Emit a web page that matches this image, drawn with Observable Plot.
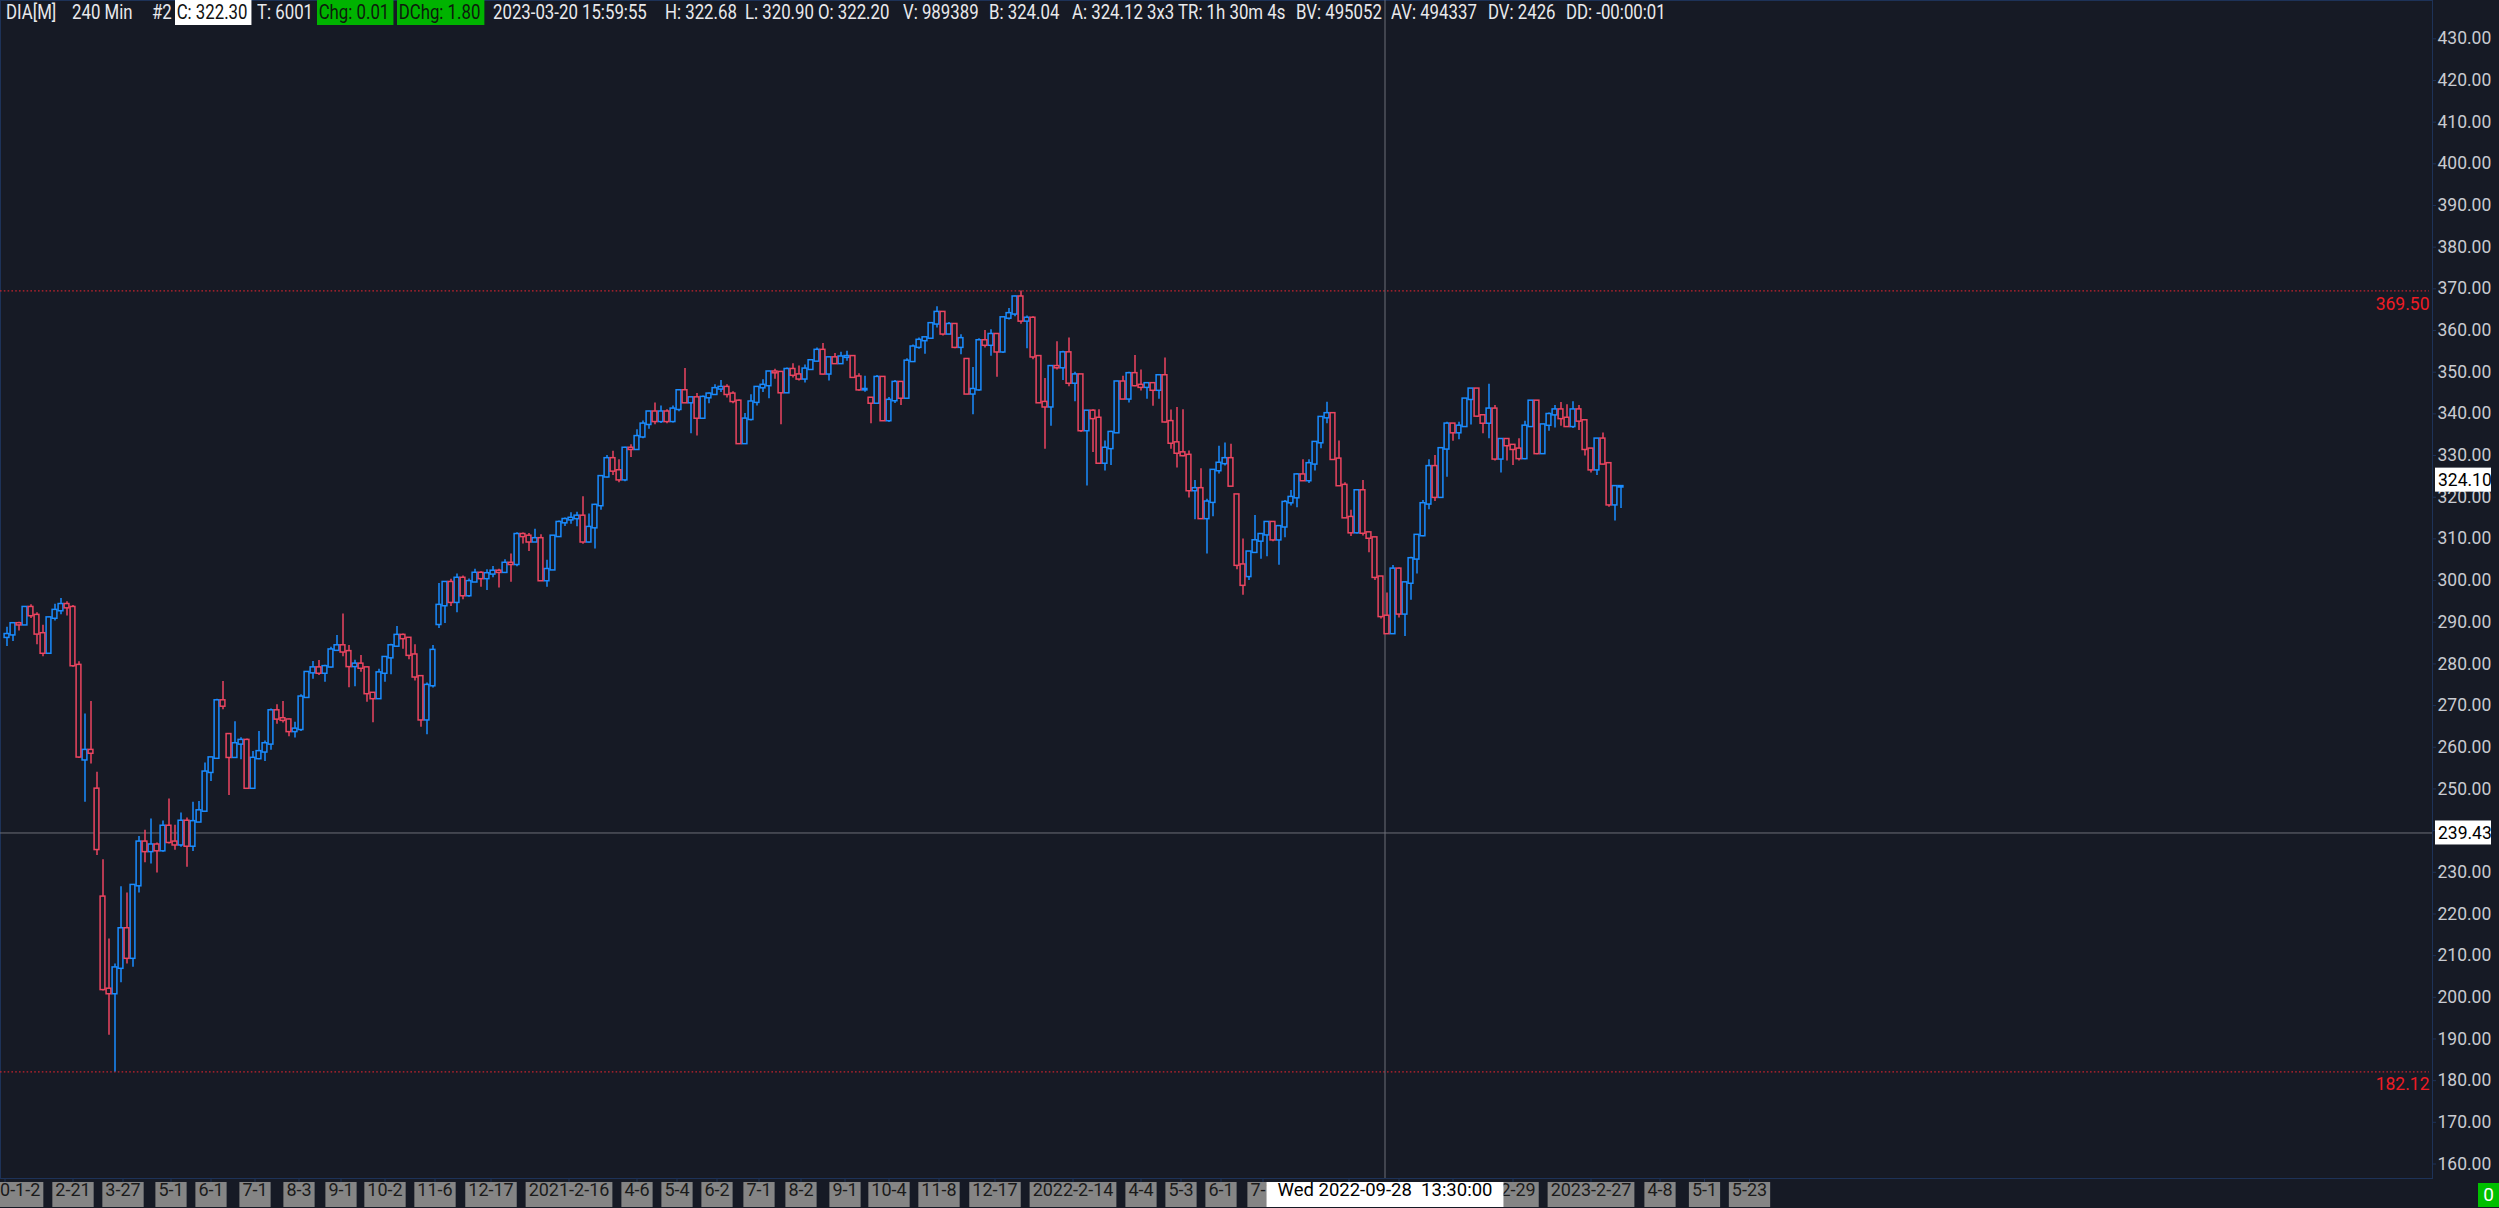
<!DOCTYPE html>
<html>
<head>
<meta charset="utf-8">
<script src="https://cdn.jsdelivr.net/npm/d3@7"></script>
<script src="https://cdn.jsdelivr.net/npm/@observablehq/plot@0.6"></script>
<style>
  html, body { margin: 0; padding: 0; background: #161a25; overflow: hidden; }
  #wrap { position: relative; width: 2499px; height: 1208px; }
  #chart svg { display: block; }
  .hdr { position: absolute; top: 0; height: 25px; line-height: 25px; font-family: Roboto, sans-serif; font-size: 20px; color: #e9e9ec; white-space: pre; transform: scaleX(0.84); transform-origin: 0 0; }
  .hdr.white { background: #ffffff; color: #111111; padding: 0 5px 0 2px; }
  .hdr.green { background: #00b300; color: #0d1a0d; padding: 0 5px 0 2px; }
  #zero { position: absolute; left: 2478px; top: 1183px; width: 21px; height: 24px; background: #00c000; color: #ffffff; font: 19px Roboto, sans-serif; text-align: center; line-height: 24px; }
  .xdate text { white-space: pre; }
</style>
</head>
<body>
<div id="wrap"><div id="chart"></div><div id="zero">0</div></div>
<script>
// ---- candle data: DIA, one candle per 3 trading days starting 2020-01-02 ----
const candleOpen = [
286.4,287.0,289.6,289.4,293.5,291.6,287.2,282.6,291.0,292.8,
294.2,293.5,279.6,257.0,259.2,249.9,224.0,201.9,200.9,207.0,
216.4,209.4,226.8,237.2,235.0,236.5,235.2,241.0,237.2,236.6,
242.2,236.3,242.1,244.7,254.0,257.4,271.1,263.0,257.6,260.8,
261.6,250.2,257.3,258.9,260.8,268.7,266.8,266.5,263.8,264.3,
272.0,277.9,279.0,277.8,279.3,283.3,284.3,282.9,279.4,279.9,
279.0,272.9,271.7,277.8,281.5,284.3,286.8,286.1,282.1,276.9,
266.6,274.8,289.5,294.0,299.5,294.8,300.5,296.4,299.7,301.7,
300.5,301.6,302.2,302.0,304.1,303.9,311.0,310.6,309.3,310.0,
300.0,302.6,310.6,313.9,314.6,314.9,315.4,309.3,312.7,318.0,
324.9,329.2,326.3,324.2,331.7,331.5,334.5,337.5,340.4,338.2,
340.4,338.2,341.1,345.5,342.7,343.8,339.0,343.9,344.7,346.0,
346.3,344.7,343.0,332.9,338.7,342.8,346.3,346.8,350.0,349.9,
345.1,350.6,349.3,348.4,350.7,352.7,355.2,349.6,353.4,352.1,
353.6,353.7,348.8,345.8,343.7,342.6,348.7,338.4,343.2,347.5,
343.8,352.6,356.0,357.6,358.2,361.6,364.3,359.2,361.4,356.0,
353.0,344.8,345.8,357.5,356.5,359.0,354.9,363.0,364.0,368.0,
362.3,362.9,353.7,342.7,341.7,351.3,351.1,354.6,347.4,349.3,
336.0,340.6,338.9,328.2,331.7,335.5,347.6,343.6,349.6,346.8,
346.4,347.2,345.7,349.1,338.1,333.0,330.6,330.0,321.6,322.0,
314.9,318.8,326.4,328.1,329.2,320.5,303.7,301.0,306.8,309.5,
311.0,313.9,309.8,312.9,318.7,319.9,325.3,324.0,328.0,333.1,
339.1,340.0,329.1,322.8,315.1,311.5,321.5,311.4,310.2,300.8,
291.4,287.3,302.7,292.0,299.4,305.2,310.8,318.4,327.3,320.0,
331.6,337.5,335.5,337.0,343.5,345.9,339.5,337.8,341.1,329.2,
333.8,332.4,331.5,329.3,337.0,343.0,330.5,337.3,339.8,340.9,
338.9,337.0,340.9,338.3,331.5,326.6,333.9,328.0,318.2,322.5
];
const candleHigh = [
288.8,289.9,290.0,293.7,294.2,292.3,289.3,291.2,294.3,295.7,
294.9,294.0,280.5,268.0,271.0,254.0,233.0,214.0,208.0,226.5,
225.0,227.0,238.6,240.1,242.8,237.0,242.3,247.6,241.3,244.2,
243.0,246.8,247.0,256.2,257.6,271.5,275.8,263.0,266.1,262.3,
262.0,259.0,263.8,261.5,269.2,270.2,271.0,266.8,266.0,272.6,
278.1,280.6,280.8,279.7,284.0,286.8,292.0,284.4,280.9,282.0,
279.3,273.0,278.7,281.8,284.7,289.0,287.2,286.3,284.6,277.0,
275.4,284.4,299.3,299.6,300.3,301.6,301.1,300.4,302.7,302.1,
302.6,303.4,302.7,305.0,306.4,311.5,311.4,311.3,312.3,311.0,
304.9,310.7,314.3,315.0,316.3,316.4,320.1,316.0,318.3,325.0,
330.0,331.0,329.0,332.0,332.6,336.2,338.3,340.6,342.6,341.9,
341.0,341.9,345.8,350.9,344.0,344.9,344.3,345.0,347.0,348.0,
347.0,345.3,343.3,340.1,344.6,346.5,348.2,350.2,350.7,350.0,
351.0,352.0,351.5,351.7,353.0,355.8,356.9,353.6,354.5,354.8,
355.0,353.9,349.6,349.0,343.9,349.2,348.9,343.9,348.0,347.6,
353.2,356.5,358.2,358.4,361.8,365.7,364.5,361.9,361.6,359.0,
353.0,351.1,358.0,360.0,360.2,359.0,363.2,365.3,368.2,369.5,
363.5,363.3,354.0,348.5,351.6,357.3,355.0,358.2,350.0,349.4,
340.8,341.0,341.0,333.5,335.8,347.8,349.0,350.0,354.0,350.5,
347.5,347.2,349.4,353.4,340.9,341.5,341.0,331.1,324.0,326.8,
319.5,326.6,332.2,333.0,332.7,320.5,310.0,307.0,315.6,311.2,
314.2,314.0,313.0,319.2,321.6,325.7,329.0,329.0,333.3,339.3,
342.8,340.0,333.5,323.5,316.9,321.6,324.0,311.6,310.2,301.0,
297.0,303.6,303.0,299.6,305.6,311.0,319.2,329.0,330.0,331.7,
338.0,337.7,338.0,343.6,346.0,346.0,339.5,347.1,342.0,334.0,
333.9,332.5,334.0,338.2,343.2,343.0,337.5,340.2,342.0,342.7,
342.2,342.9,342.0,338.3,331.7,334.0,335.4,328.2,322.6,322.7
];
const candleLow = [
284.2,285.4,287.9,289.2,290.9,284.6,281.7,282.3,290.3,291.8,
291.5,279.2,257.3,246.8,256.0,234.0,201.5,190.9,182.1,203.5,
208.0,207.2,225.0,232.3,232.0,229.8,234.8,236.8,235.3,236.0,
231.2,235.0,243.0,244.6,251.8,257.2,269.0,248.4,258.6,257.0,
250.0,250.0,257.0,256.6,259.3,265.5,265.8,262.5,262.2,263.8,
271.8,276.3,277.2,275.6,279.0,283.2,281.7,274.3,274.5,278.0,
270.8,265.9,271.6,275.6,277.4,284.0,283.5,281.0,275.9,264.8,
263.0,274.2,288.5,289.7,293.8,292.3,295.4,296.0,299.6,298.4,
297.6,300.7,298.2,301.9,299.6,303.3,308.8,307.0,309.5,299.9,
298.4,302.5,310.4,313.0,313.5,312.9,308.7,309.0,307.6,316.9,
324.6,325.2,323.5,323.7,329.5,331.4,334.0,336.3,337.4,337.7,
337.6,337.8,340.5,342.5,335.2,334.7,338.7,342.4,344.4,345.1,
343.8,342.4,332.7,332.8,338.3,341.9,345.1,343.6,348.3,337.4,
344.9,348.6,347.9,347.4,350.4,352.5,349.3,347.9,351.9,352.0,
352.6,348.6,345.4,345.2,337.6,342.4,338.2,337.9,342.5,342.0,
343.7,352.3,355.5,354.3,357.9,360.6,358.7,359.0,355.6,354.2,
344.6,339.8,345.4,355.8,353.8,348.8,354.5,362.5,363.3,361.5,
355.6,353.0,342.5,331.5,337.0,350.5,348.0,346.5,342.9,335.5,
322.7,330.7,327.9,326.3,327.6,335.3,343.5,342.6,346.5,345.5,
343.5,341.8,343.5,337.8,331.5,327.0,329.7,319.8,314.6,314.7,
306.4,315.3,325.6,327.5,322.5,302.6,296.5,300.0,309.1,305.1,
305.7,309.3,303.7,310.3,317.9,317.5,323.9,323.3,326.3,331.6,
337.6,328.8,322.6,314.9,310.6,311.2,310.7,306.7,300.0,290.8,
287.2,287.3,291.0,286.6,295.3,301.6,310.5,317.0,319.0,319.8,
324.8,333.4,333.8,336.8,337.3,339.1,335.2,334.0,328.7,325.8,
328.7,327.6,328.7,329.0,336.9,330.2,330.4,335.8,336.6,337.0,
336.8,336.5,336.0,329.9,325.8,325.2,327.7,317.6,314.3,317.3
];
const candleClose = [
287.0,289.6,289.4,293.5,291.6,287.2,282.6,291.0,292.8,294.2,
293.5,279.6,257.7,259.2,258.6,235.5,201.9,200.9,207.0,216.4,
209.4,226.8,237.2,235.0,236.5,235.2,241.0,237.2,236.6,242.2,
236.3,242.1,244.7,254.0,257.4,271.1,269.9,257.6,260.8,261.6,
250.2,257.3,258.9,260.8,268.7,266.8,266.5,263.8,264.3,272.0,
277.9,279.0,277.8,279.3,283.3,284.3,282.9,279.4,279.9,279.0,
272.9,271.7,277.8,281.5,284.3,286.8,286.1,282.1,276.9,266.6,
274.8,283.2,294.0,299.5,294.8,300.5,296.4,299.7,301.7,300.5,
301.6,302.2,302.0,304.1,303.9,311.0,310.6,309.3,310.0,300.0,
302.6,310.6,313.9,314.6,314.9,315.4,309.3,312.7,318.0,324.9,
329.2,326.3,324.2,331.7,331.5,334.5,337.5,340.4,338.2,340.4,
338.2,341.1,345.5,342.7,343.8,339.0,343.9,344.7,346.0,346.3,
344.7,343.0,332.9,338.7,342.8,346.3,346.8,350.0,349.9,345.1,
350.6,349.3,348.4,350.7,352.7,355.2,349.6,353.4,352.1,353.6,
353.7,348.8,345.8,345.8,342.6,348.7,338.4,343.2,347.5,343.8,
352.6,356.0,357.6,358.2,361.6,364.3,359.2,361.4,356.0,358.0,
344.8,345.8,357.5,356.5,359.0,354.9,363.0,364.0,368.0,362.3,
362.9,353.7,342.7,341.7,351.3,351.1,354.6,347.4,349.3,336.0,
340.6,338.9,328.2,331.7,335.5,347.6,343.6,349.6,346.8,346.4,
347.2,345.7,349.1,338.1,333.0,330.6,330.0,321.6,322.0,314.9,
318.8,326.4,328.1,329.2,322.7,303.7,298.9,306.8,309.5,311.0,
313.9,309.8,312.9,318.7,319.9,325.3,324.0,328.0,333.1,339.1,
340.0,329.1,322.8,315.1,311.5,321.5,311.4,310.2,300.8,291.4,
287.3,302.7,292.0,299.4,305.2,310.8,318.4,327.3,320.0,331.6,
337.5,335.5,337.0,343.5,345.9,339.5,337.8,341.1,329.2,333.8,
332.4,331.5,329.3,337.0,343.0,330.5,337.3,339.8,340.9,338.9,
337.0,340.9,338.3,331.5,326.6,333.9,328.0,318.2,322.5,322.5
];

// ---- time axis labels (trading-day index from 2020-01-02) ----
const tickLabels = ["2020-1-2","2-21","3-27","5-1","6-1","7-1","8-3","9-1","10-2","11-6","12-17",
  "2021-2-16","4-6","5-4","6-2","7-1","8-2","9-1","10-4","11-8","12-17",
  "2022-2-14","4-4","5-3","6-1","7-1","12-29","2023-2-27","4-8","5-1","5-23"];
const tickDays = [0,34,59,83,103,125,147,168,190,215,243,
  282,316,336,356,377,398,420,442,467,495,
  534,568,588,608,629,754,793,827.5,849.75,872.25];
// tick marks whose labels sit under the crosshair date box
const hiddenTickDays = [672,697,724];

// ---- price axis and levels ----
const priceTicks = d3.range(160, 431, 10);
const levelPrices = [369.50, 182.12];
const crossPrice = 239.43;
const lastPrice = 324.10;
const crossDay = 690;                 // 2022-09-28, 13:30 bar
const crossLabel = "Wed 2022-09-28  13:30:00";

// ---- header ----
const headerTexts = ["DIA[M]","240 Min","#2","C: 322.30","T: 6001","Chg: 0.01","DChg: 1.80","2023-03-20 15:59:55",
  "H: 322.68","L: 320.90","O: 322.20","V: 989389","B: 324.04","A: 324.12","3x3","TR: 1h 30m 4s",
  "BV: 495052","AV: 494337","DV: 2426","DD: -00:00:01"];
const headerKinds = ["","","","white","","green","green","","","","","","","","","","","","",""];
const headerLeft = [6,72,152,175,257,317,397,493,665,745,818,903,989,1072,1147,1178,1296,1391,1488,1566];

// ---- styles ----
const BG = "#161a25", UP = "#1a8cff", DOWN = "#ec4560", FRAME = "#1d3258", LABEL = "#c9cbd1",
      CROSS = "#6c6f78", LEVEL = "#c4232e", LEVELTXT = "#ee1c24";
const AXFONT = "Roboto, sans-serif";

const candles = candleClose.map((c, i) => ({
  bar: i * 6, open: candleOpen[i], high: candleHigh[i], low: candleLow[i], close: c, up: c >= candleOpen[i]
}));
const ups = candles.filter(d => d.up), downs = candles.filter(d => !d.up);
const xTicks = tickLabels.map((label, i) => ({label, bar: tickDays[i] * 2 + 1}));
const tickMarkBars = tickDays.concat(hiddenTickDays).map(d => d * 2 + 1);
const crossBar = crossDay * 2 + 1;
const valueBoxes = [lastPrice, crossPrice];

const bodyOpts = (color) => ({x1: d => d.bar + 0.6, x2: d => d.bar + 5.4, y1: "open", y2: "close",
  fill: BG, stroke: color, strokeWidth: 1.5, insetTop: -0.7, insetBottom: -0.7});
const wickOpts = (color) => ({x: d => d.bar + 3, y1: "low", y2: "high", stroke: color, strokeWidth: 1.5});

const chart = Plot.plot({
  width: 2499, height: 1208,
  marginLeft: 0, marginRight: 67, marginTop: 0, marginBottom: 30,
  style: {background: BG, color: LABEL, fontFamily: AXFONT, fontSize: "17.5px", overflow: "visible"},
  x: {domain: [-3.5, 2428.5]},
  y: {domain: [156.52, 439.19]},
  marks: [
    Plot.frame({stroke: FRAME}),
    Plot.ruleY(levelPrices, {x1: -3.5, x2: 2425.5, stroke: LEVEL, strokeWidth: 1.2, strokeDasharray: "1.6,2.2"}),
    Plot.text(levelPrices, {x: 2425.5, y: d => d, text: d => d.toFixed(2), textAnchor: "end", dy: 13, fill: LEVELTXT, fontSize: 17.5}),
    Plot.ruleY([crossPrice], {stroke: CROSS, strokeWidth: 1}),
    Plot.ruleX([crossBar], {stroke: CROSS, strokeWidth: 1}),
    Plot.ruleX(ups, wickOpts(UP)),
    Plot.ruleX(downs, wickOpts(DOWN)),
    Plot.rect(ups, bodyOpts(UP)),
    Plot.rect(downs, bodyOpts(DOWN)),
    Plot.axisY(priceTicks, {anchor: "right", tickSize: 3, tickPadding: 2, tickFormat: d => d.toFixed(2), stroke: FRAME, fill: LABEL, label: null, fontSize: 17.5}),
    Plot.axisX(tickMarkBars, {anchor: "bottom", tickSize: 4, tickFormat: () => "", stroke: FRAME, label: null}),
    Plot.text(xTicks, {x: "bar", text: "label", frameAnchor: "bottom", dy: 17, fill: "#1a1a1a", fontSize: 18, fontFamily: AXFONT, className: "xlab"}),
    Plot.rect(valueBoxes, {x1: 2431.5, x2: 2487.5, y1: d => d - 2.88, y2: d => d + 2.88, fill: "#ffffff"}),
    Plot.text(valueBoxes, {x: 2434, y: d => d, text: d => d.toFixed(2), textAnchor: "start", fill: "#000000", fontSize: 17.5}),
    Plot.text([crossLabel], {x: crossBar, text: d => d, frameAnchor: "bottom", dy: 17, fill: "#000000", fontSize: 18.5, fontFamily: AXFONT, className: "xdate"})
  ]
});
document.getElementById("chart").appendChild(chart);

// label boxes behind the time-axis texts
const ns = "http://www.w3.org/2000/svg";
const sr = chart.getBoundingClientRect();
function addBoxes(sel, fill, padX) {
  const g = chart.querySelector(sel);
  if (!g) return;
  const bg = document.createElementNS(ns, "g");
  g.querySelectorAll("text").forEach(t => {
    const r = t.getBoundingClientRect();
    const rect = document.createElementNS(ns, "rect");
    rect.setAttribute("x", r.left - sr.left - padX);
    rect.setAttribute("width", r.width + 2 * padX);
    rect.setAttribute("y", 1182);
    rect.setAttribute("height", 25);
    rect.setAttribute("fill", fill);
    bg.appendChild(rect);
  });
  g.parentNode.insertBefore(bg, g);
}
addBoxes("g.xlab", "#858585", 3);
addBoxes("g.xdate", "#ffffff", 11);

// header line
const wrap = document.getElementById("wrap");
headerTexts.forEach((t, i) => {
  const s = document.createElement("span");
  s.className = "hdr " + headerKinds[i];
  s.style.left = headerLeft[i] + "px";
  s.textContent = t;
  wrap.appendChild(s);
});
</script>
</body>
</html>
